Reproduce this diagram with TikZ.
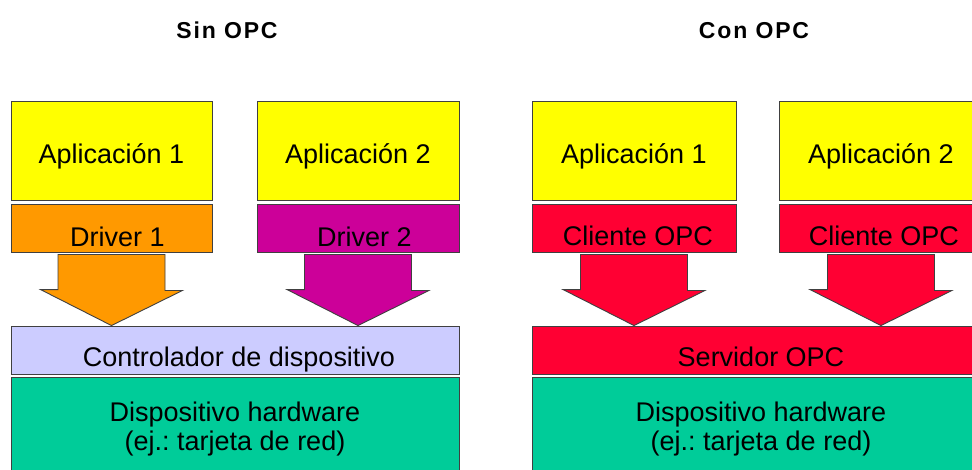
\documentclass[tikz,border=0pt]{standalone}
\usepackage{fontspec}
\setmainfont{Liberation Sans}
\usetikzlibrary{calc}
\definecolor{appYel}{HTML}{FFFF00}
\definecolor{drvOra}{HTML}{FF9900}
\definecolor{drvMag}{HTML}{CC0099}
\definecolor{ctlLav}{HTML}{CCCCFF}
\definecolor{opcRed}{HTML}{FF0033}
\definecolor{hwGrn}{HTML}{00CC99}
\definecolor{edge}{HTML}{404040}
\frenchspacing

\begin{document}
\begin{tikzpicture}[
    x=1pt, y=-1pt,
    box/.style={rectangle, draw=edge, line width=0.9pt, inner sep=0pt, text depth=0pt,
        font=\fontsize{27}{29}\selectfont},
    app/.style={box, fill=appYel, minimum height=99pt, text height=25pt},
    thin box/.style={box, minimum height=48pt, text height=36pt},
    layer/.style={box, minimum height=48pt, text height=32pt},
    hw/.style={box, fill=hwGrn, minimum height=99pt, align=center},
    fat/.style={draw=edge, line width=0.9pt, line join=miter},
    ttl/.style={font=\fontsize{23}{27}\selectfont\bfseries\addfontfeature{LetterSpace=8}, inner sep=0pt, anchor=base}
]
\path[use as bounding box, clip] (0,0) rectangle (972,469);
\fill[white] (0,0) rectangle (972,469);

% sin OPC
\node[ttl] (tSin) at (227,38) {Sin OPC};
\node[app, minimum width=201pt] (a1) at (111.5,150.5) {Aplicación 1};
\node[app, minimum width=202pt] (a2) at (358,150.5) {Aplicación 2};
\node[thin box, fill=drvOra, minimum width=201pt] (d1) at (111.5,228) {\hspace{12pt}Driver 1};
\node[thin box, fill=drvMag, minimum width=202pt] (d2) at (358,228) {\hspace{13pt}Driver 2};
\node[layer, fill=ctlLav, minimum width=448pt] (ctl) at (235,350) {\hspace{8pt}Controlador de dispositivo};
\node[hw, minimum width=448pt] (hw1) at (235,426.5) {Dispositivo hardware\\(ej.: tarjeta de red)};
\draw[fat, fill=drvOra] ($(d1.south)+(-53.5,2)$) -- ++(107,0) -- ++(0,36) -- ++(17.5,0)
    -- (ctl.north -| d1.south) -- ++(-71,-36) -- ++(17.5,0) -- cycle;
\draw[fat, fill=drvMag] ($(d2.south)+(-53.5,2)$) -- ++(107,0) -- ++(0,36) -- ++(17.5,0)
    -- (ctl.north -| d2.south) -- ++(-71,-36) -- ++(17.5,0) -- cycle;

% con OPC
\node[ttl] (tCon) at (754,38) {Con OPC};
\node[app, minimum width=204pt] (a3) at (634,150.5) {Aplicación 1};
\node[app, minimum width=204pt] (a4) at (881,150.5) {Aplicación 2};
\node[thin box, fill=opcRed, minimum width=204pt, text height=34pt] (c1) at (634,228) {\hspace{8pt}Cliente OPC};
\node[thin box, fill=opcRed, minimum width=204pt, text height=34pt] (c2) at (881,228) {\hspace{6pt}Cliente OPC};
\node[layer, fill=opcRed, minimum width=458pt] (srv) at (761,350) {Servidor OPC};
\node[hw, minimum width=458pt] (hw2) at (761,426.5) {Dispositivo hardware\\(ej.: tarjeta de red)};
\draw[fat, fill=opcRed] ($(c1.south)+(-53.5,2)$) -- ++(107,0) -- ++(0,36) -- ++(17.5,0)
    -- (srv.north -| c1.south) -- ++(-71,-36) -- ++(17.5,0) -- cycle;
\draw[fat, fill=opcRed] ($(c2.south)+(-53.5,2)$) -- ++(107,0) -- ++(0,36) -- ++(17.5,0)
    -- (srv.north -| c2.south) -- ++(-71,-36) -- ++(17.5,0) -- cycle;
\end{tikzpicture}
\end{document}
